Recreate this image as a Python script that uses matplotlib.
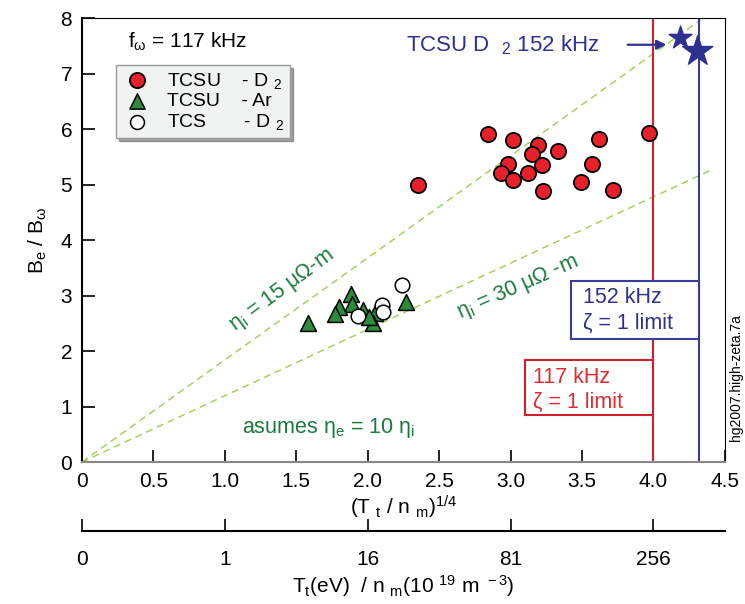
import numpy as np
import matplotlib
matplotlib.use("Agg")
import matplotlib.pyplot as plt
from matplotlib.patches import Rectangle

plt.rcParams['font.family'] = ['Liberation Sans', 'DejaVu Sans']
plt.rcParams['mathtext.fontset'] = 'custom'
plt.rcParams['mathtext.rm'] = 'Liberation Sans'
plt.rcParams['mathtext.it'] = 'Liberation Sans:italic'
plt.rcParams['mathtext.bf'] = 'Liberation Sans:bold'

# ---- data ----
tcsu_d2_x = [2.84, 3.02, 3.19, 3.15, 3.33, 3.62, 3.97, 2.98, 3.22, 3.57,
             2.93, 3.12, 3.02, 3.49, 3.23, 3.72, 2.35]
tcsu_d2_y = [5.92, 5.81, 5.71, 5.56, 5.61, 5.82, 5.93, 5.38, 5.35, 5.37,
             5.20, 5.20, 5.08, 5.04, 4.88, 4.90, 4.99]

tcsu_ar_x = [1.58, 1.88, 1.89, 1.80, 1.77, 1.97, 2.05, 2.04, 2.27, 2.01]
tcsu_ar_y = [2.50, 3.03, 2.85, 2.80, 2.67, 2.74, 2.68, 2.50, 2.89, 2.62]

tcs_d2_x = [2.24, 2.10, 2.11, 1.93]
tcs_d2_y = [3.19, 2.83, 2.71, 2.64]

star_x = [4.19, 4.31]
star_y = [7.64, 7.40]
star_size = [300, 520]

limit_117 = 4.00
limit_152 = 4.32

eta_labels = [15, 30]
eta_slopes = [1.84, 1.195]
eta_xend = [4.33, 4.42]

x_ticks = [0, 0.5, 1.0, 1.5, 2.0, 2.5, 3.0, 3.5, 4.0, 4.5]
x_ticklabels = ['0', '0.5', '1.0', '1.5', '2.0', '2.5', '3.0', '3.5', '4.0', '4.5']
y_ticks = [0, 1, 2, 3, 4, 5, 6, 7, 8]
sec_ticks = [0, 1, 16, 81, 256]

# ---- colours ----
RED = '#e8202a'
GREEN_MK = '#2a8c3c'
NAVY = '#2e3192'
REDLINE = '#cc2229'
BLUELINE = '#3a3d9c'
DASH = '#9fcf4f'
GTEXT = '#1a7a3e'

fig = plt.figure(figsize=(7.45, 6.04), dpi=100)
ax = fig.add_axes([0.110, 0.235, 0.863, 0.735])
ax.set_xlim(0, 4.5)
ax.set_ylim(0, 8)

# dashed resistivity lines
for s, xe in zip(eta_slopes, eta_xend):
    xx = np.array([0, xe])
    ax.plot(xx, s * xx, ls=(0, (5, 3.5)), color=DASH, lw=1.0, zorder=1)

# limit lines
ax.axvline(limit_117, color=REDLINE, lw=1.5, zorder=2)
ax.axvline(limit_152, color=BLUELINE, lw=1.5, zorder=2)

# data
ax.scatter(tcsu_d2_x, tcsu_d2_y, s=120, marker='o', facecolor=RED,
           edgecolor='black', linewidth=1.3, zorder=5)
ax.scatter(tcsu_ar_x, tcsu_ar_y, s=130, marker='^', facecolor=GREEN_MK,
           edgecolor='black', linewidth=1.1, zorder=5)
ax.scatter(tcs_d2_x, tcs_d2_y, s=110, marker='o', facecolor='white',
           edgecolor='black', linewidth=1.1, zorder=6)
ax.scatter(star_x, star_y, s=star_size, marker='*', facecolor=NAVY,
           edgecolor=NAVY, zorder=6)

# star annotation
ax.text(2.27, 7.52, 'TCSU D  $_{\\rm 2}$ 152 kHz', color=NAVY, fontsize=16,
        va='center', ha='left')
ax.annotate('', xy=(star_x[0] - 0.08, 7.52), xytext=(3.80, 7.52),
            arrowprops=dict(arrowstyle='-|>', color=NAVY, lw=1.6,
                            mutation_scale=14), zorder=7)

# limit boxes
ax.add_patch(Rectangle((3.42, 2.22), limit_152 - 3.42, 1.05, facecolor='white',
                       edgecolor=BLUELINE, lw=1.5, zorder=3))
ax.text(3.51, 2.97, '152 kHz', color=NAVY, fontsize=15.5, va='center', ha='left', zorder=4)
ax.text(3.51, 2.50, 'ζ = 1 limit', color=NAVY, fontsize=15.5, va='center', ha='left', zorder=4)

ax.add_patch(Rectangle((3.10, 0.85), limit_117 - 3.10, 0.99, facecolor='white',
                       edgecolor=REDLINE, lw=1.5, zorder=3))
ax.text(3.16, 1.53, '117 kHz', color='#e02a2f', fontsize=15.5, va='center', ha='left', zorder=4)
ax.text(3.16, 1.07, 'ζ = 1 limit', color='#e02a2f', fontsize=15.5, va='center', ha='left', zorder=4)

# resistivity labels
ax.text(1.40, 3.10, r'η$_{\rm i}$ = %d μΩ-m' % eta_labels[0], color=GTEXT, fontsize=15.5,
        rotation=36.5, rotation_mode='anchor', ha='center', va='center')
ax.text(3.05, 3.14, r'η$_{\rm i}$ = %d μΩ -m' % eta_labels[1], color=GTEXT, fontsize=15.5,
        rotation=24, rotation_mode='anchor', ha='center', va='center')
ax.text(1.73, 0.62, r'asumes η$_{\rm e}$ = 10 η$_{\rm i}$', color=GTEXT, fontsize=15.5,
        ha='center', va='center')

# f_omega
ax.text(0.32, 7.57, r'f$_{\rm ω}$ = 117 kHz', fontsize=15, ha='left', va='center')

# legend
h1 = ax.scatter([], [], s=120, marker='o', facecolor=RED, edgecolor='black', linewidth=1.3)
h2 = ax.scatter([], [], s=120, marker='^', facecolor=GREEN_MK, edgecolor='black', linewidth=1.1)
h3 = ax.scatter([], [], s=100, marker='o', facecolor='white', edgecolor='black', linewidth=1.1)
leg = ax.legend([h1, h2, h3],
                ['TCSU    - D $_{\\rm 2}$', 'TCSU    - Ar', 'TCS       - D $_{\\rm 2}$'],
                loc='upper left', bbox_to_anchor=(0.053, 0.895), fontsize=14,
                frameon=True, fancybox=False, shadow=True, borderpad=0.3,
                labelspacing=0.1, handletextpad=0.7, handlelength=1.6,
                borderaxespad=0)
leg.get_frame().set_facecolor('#f1f2f2')
leg.get_frame().set_edgecolor('#999999')
leg.get_frame().set_alpha(1)

# axes styling
ax.set_xticks(x_ticks)
ax.set_xticklabels(x_ticklabels)
ax.set_yticks(y_ticks)
ax.tick_params(axis='both', direction='in', length=9, width=1.2, labelsize=15,
               color='black')
ax.tick_params(axis='x', pad=7)
ax.tick_params(axis='y', pad=7)
for side in ['top', 'right']:
    ax.spines[side].set_linewidth(0.8)
ax.spines['left'].set_linewidth(1.5)
ax.spines['bottom'].set_color('#888888')
ax.spines['bottom'].set_linewidth(1.5)

ax.set_xlabel(r'(T $_{\rm t}$ / n $_{\rm m}$)$^{\rm 1/4}$', fontsize=15, labelpad=2)
ax.set_ylabel(r'B$_{\rm e}$ / B$_{\rm ω}$', fontsize=15, labelpad=8)

# secondary axis
sec = ax.secondary_xaxis(-0.155, functions=(lambda x: np.sign(x) * np.abs(x) ** 4,
                                           lambda t: np.sign(t) * np.abs(t) ** 0.25))
sec.set_xticks(sec_ticks)
sec.set_xticklabels([str(t) for t in sec_ticks])
sec.tick_params(direction='in', length=9, width=1.2, labelsize=15, pad=14)
sec.spines['bottom'].set_linewidth(1.5)
sec.set_xlabel(r'T$_{\rm t}$(eV)  / n $_{\rm m}$(10 $^{\rm 19}$ m $^{\rm -3}$)', fontsize=15,
               labelpad=3)

fig.text(0.988, 0.375, 'hg2007.high-zeta.7a', rotation=90, fontsize=10,
         ha='center', va='center')

fig.savefig('out.png', dpi=100)
